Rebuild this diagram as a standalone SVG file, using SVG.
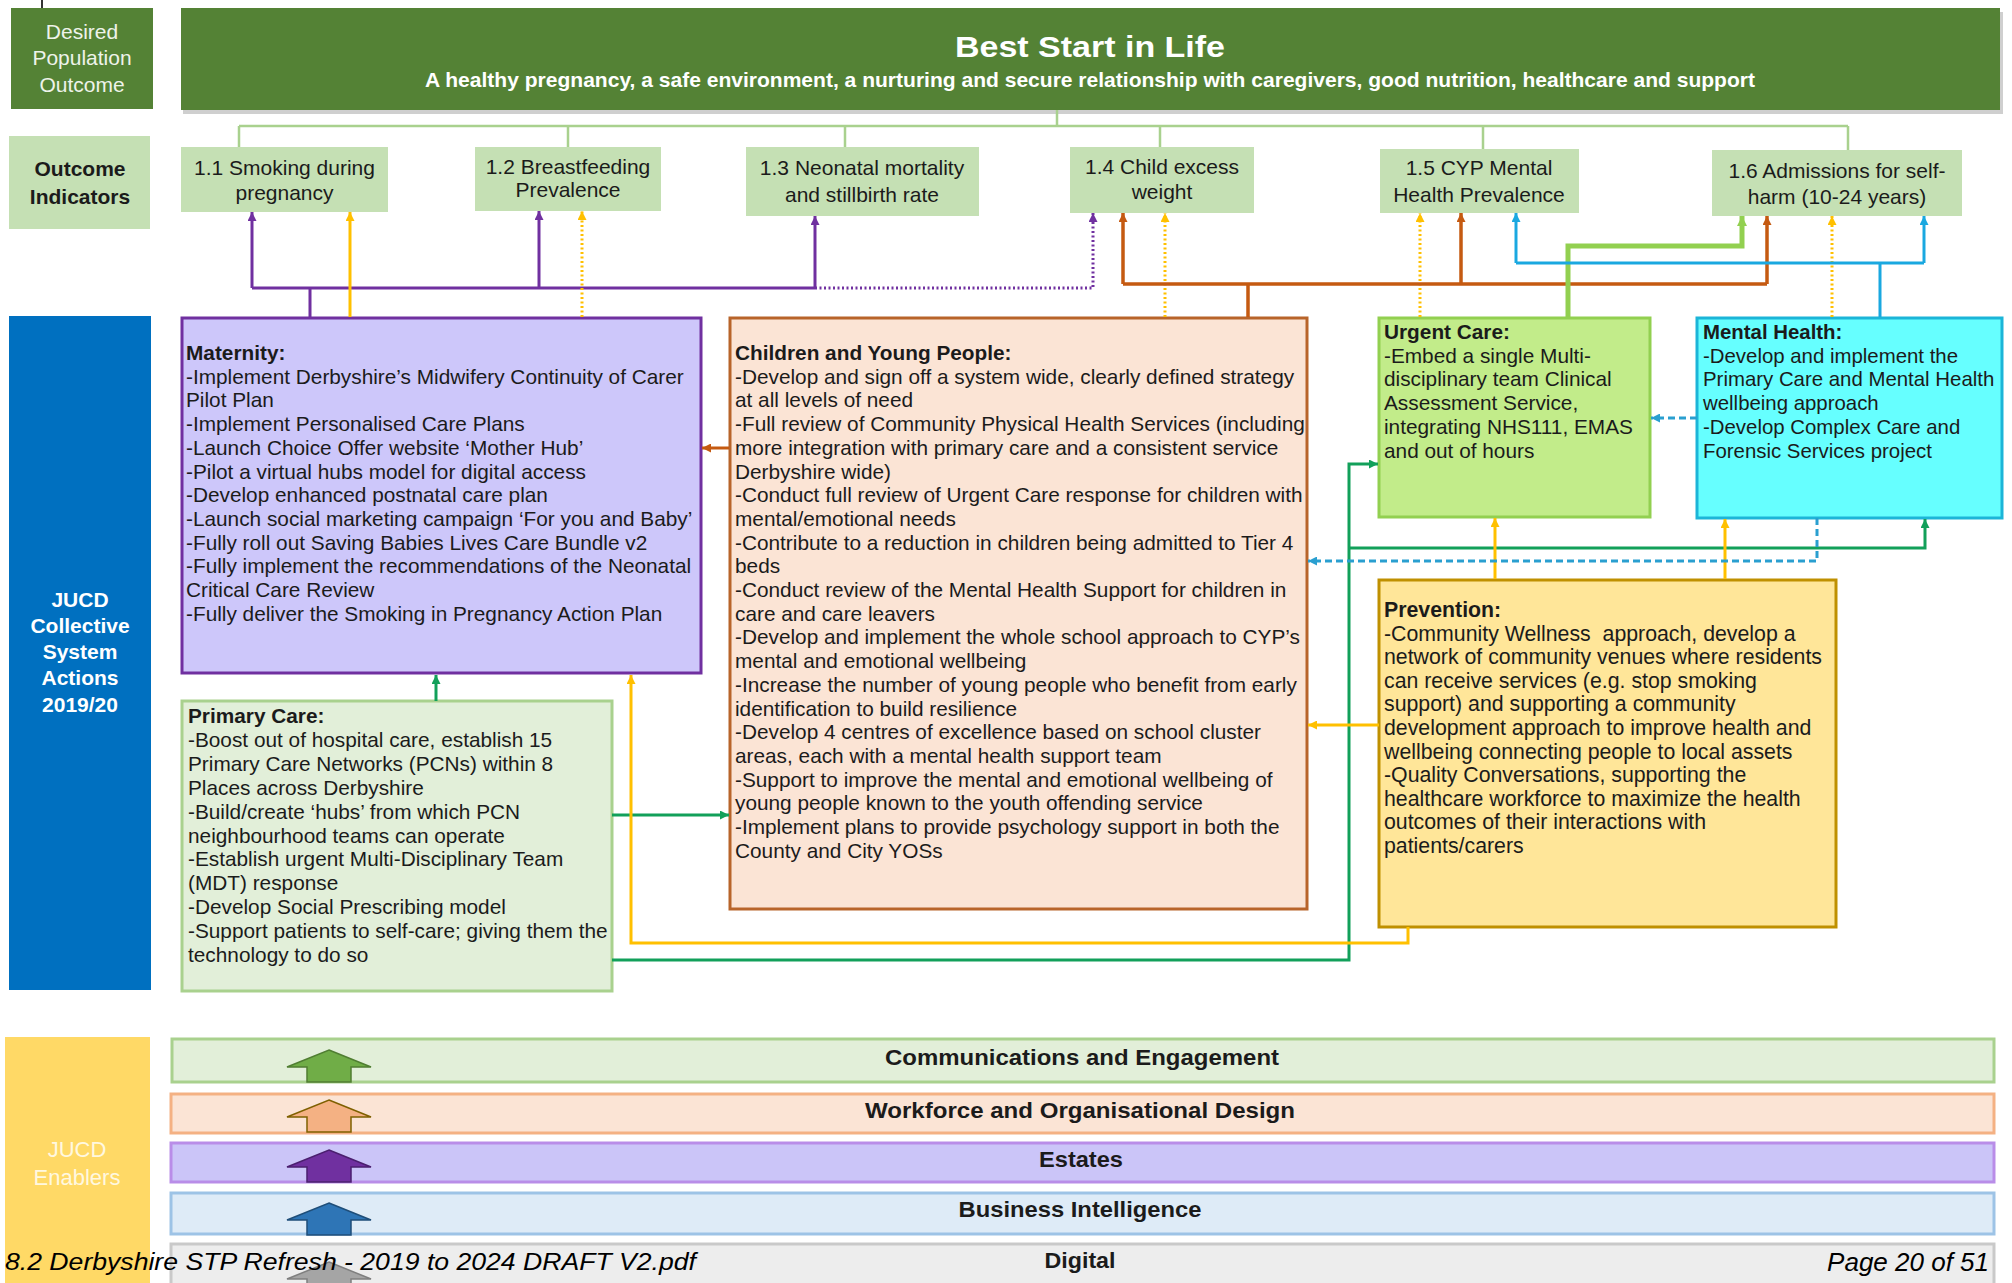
<svg xmlns="http://www.w3.org/2000/svg" width="2012" height="1283" viewBox="0 0 2012 1283">
  <style>
    text { font-family: "Liberation Sans", Arial, sans-serif; fill: #1b1b1b; }
    .body { font-size: 20.8px; }
    .b { font-weight: bold; }
    .ind { font-size: 21px; text-anchor: middle; }
    .side { font-size: 21px; text-anchor: middle; }
    .bar { font-size: 22px; font-weight: bold; text-anchor: middle; }
    .foot { font-size: 24px; font-style: italic; fill: #000; }
    .indbox { fill: #c5e0b4; }
    .tree { fill: none; stroke: #a9d18e; stroke-width: 2.5; }
    .c { fill: none; stroke-width: 3; }
    .dot { stroke-dasharray: 2 2.5; }
    .dash { stroke-dasharray: 7 4; }
  </style>
  <defs>
    <marker id="ah-purple" viewBox="0 0 10 10" refX="10" refY="5" markerWidth="10" markerHeight="9" markerUnits="userSpaceOnUse" orient="auto"><path d="M0,0 L10,5 L0,10 z" fill="#7030a0"/></marker>
    <marker id="ah-yellow" viewBox="0 0 10 10" refX="10" refY="5" markerWidth="10" markerHeight="9" markerUnits="userSpaceOnUse" orient="auto"><path d="M0,0 L10,5 L0,10 z" fill="#ffc000"/></marker>
    <marker id="ah-orange" viewBox="0 0 10 10" refX="10" refY="5" markerWidth="10" markerHeight="9" markerUnits="userSpaceOnUse" orient="auto"><path d="M0,0 L10,5 L0,10 z" fill="#c55a11"/></marker>
    <marker id="ah-lime" viewBox="0 0 10 10" refX="10" refY="5" markerWidth="11" markerHeight="10" markerUnits="userSpaceOnUse" orient="auto"><path d="M0,0 L10,5 L0,10 z" fill="#92d050"/></marker>
    <marker id="ah-blue" viewBox="0 0 10 10" refX="10" refY="5" markerWidth="10" markerHeight="9" markerUnits="userSpaceOnUse" orient="auto"><path d="M0,0 L10,5 L0,10 z" fill="#1aa8e0"/></marker>
    <marker id="ah-green" viewBox="0 0 10 10" refX="10" refY="5" markerWidth="10" markerHeight="9" markerUnits="userSpaceOnUse" orient="auto"><path d="M0,0 L10,5 L0,10 z" fill="#12a05a"/></marker>
    <marker id="ah-dash" viewBox="0 0 10 10" refX="10" refY="5" markerWidth="10" markerHeight="9" markerUnits="userSpaceOnUse" orient="auto"><path d="M0,0 L10,5 L0,10 z" fill="#2a9fd0"/></marker>
    <path id="up-arrow" d="M0,0 L42,17 L22,17 L22,32 L-22,32 L-22,17 L-42,17 Z"/>
  </defs>

  <rect width="2012" height="1283" fill="#ffffff"/>

  <!-- stray mark at top-left -->
  <line x1="42" y1="0" x2="42" y2="23" stroke="#333" stroke-width="2"/>

  <!-- row labels -->
  <g id="label-outcome">
    <rect x="11" y="8" width="142" height="101" fill="#548235"/>
    <text class="side" style="fill:#eef3ea"><tspan x="82" y="39">Desired</tspan><tspan x="82" y="65">Population</tspan><tspan x="82" y="92">Outcome</tspan></text>
  </g>
  <g id="label-indicators">
    <rect x="9" y="136" width="141" height="93" class="indbox"/>
    <text class="side b"><tspan x="80" y="176">Outcome</tspan><tspan x="80" y="204">Indicators</tspan></text>
  </g>
  <g id="label-actions">
    <rect x="9" y="316" width="142" height="674" fill="#0070c0"/>
    <text class="side b" style="fill:#ffffff"><tspan x="80" y="607">JUCD</tspan><tspan x="80" y="633">Collective</tspan><tspan x="80" y="659">System</tspan><tspan x="80" y="685">Actions</tspan><tspan x="80" y="712">2019/20</tspan></text>
  </g>
  <g id="label-enablers">
    <rect x="5" y="1037" width="145" height="246" fill="#ffd966"/>
    <text class="side" style="fill:#fff8e0;font-size:22px"><tspan x="77" y="1157">JUCD</tspan><tspan x="77" y="1185">Enablers</tspan></text>
  </g>

  <!-- population outcome header -->
  <g id="best-start">
    <rect x="183" y="12" width="1820" height="102" fill="#a8a8a8" opacity="0.55"/>
    <rect x="181" y="8" width="1819" height="102" fill="#548235"/>
    <text x="1090" y="57" class="b" text-anchor="middle" textLength="270" lengthAdjust="spacingAndGlyphs" style="fill:#ffffff;font-size:30px">Best Start in Life</text>
    <text x="1090" y="87" class="b" text-anchor="middle" textLength="1330" lengthAdjust="spacingAndGlyphs" style="fill:#ffffff;font-size:21px">A healthy pregnancy, a safe environment, a nurturing and secure relationship with caregivers, good nutrition, healthcare and support</text>
  </g>

  <!-- outcome indicators -->
  <g id="ind-1-1">
    <rect x="181" y="147" width="207" height="65" class="indbox"/>
    <text class="ind"><tspan x="284.5" y="175">1.1 Smoking during</tspan><tspan x="284.5" y="200">pregnancy</tspan></text>
  </g>
  <g id="ind-1-2">
    <rect x="475" y="147" width="186" height="64" class="indbox"/>
    <text class="ind"><tspan x="568" y="174">1.2 Breastfeeding</tspan><tspan x="568" y="197">Prevalence</tspan></text>
  </g>
  <g id="ind-1-3">
    <rect x="746" y="147" width="233" height="69" class="indbox"/>
    <text class="ind"><tspan x="862" y="175">1.3 Neonatal mortality</tspan><tspan x="862" y="202">and stillbirth rate</tspan></text>
  </g>
  <g id="ind-1-4">
    <rect x="1070" y="147" width="184" height="66" class="indbox"/>
    <text class="ind"><tspan x="1162" y="174">1.4 Child excess</tspan><tspan x="1162" y="199">weight</tspan></text>
  </g>
  <g id="ind-1-5">
    <rect x="1380" y="149" width="199" height="64" class="indbox"/>
    <text class="ind"><tspan x="1479" y="175">1.5 CYP Mental</tspan><tspan x="1479" y="202">Health Prevalence</tspan></text>
  </g>
  <g id="ind-1-6">
    <rect x="1712" y="150" width="250" height="66" class="indbox"/>
    <text class="ind"><tspan x="1837" y="178">1.6 Admissions for self-</tspan><tspan x="1837" y="204">harm (10-24 years)</tspan></text>
  </g>

  <!-- system actions -->
  <g id="maternity">
    <rect x="182" y="318" width="519" height="355" fill="#cdc7fa" stroke="#7030a0" stroke-width="3"/>
    <text class="body"><tspan x="186" y="360" class="b">Maternity:</tspan><tspan x="186" dy="23.7">-Implement Derbyshire’s Midwifery Continuity of Carer</tspan><tspan x="186" dy="23.7">Pilot Plan</tspan><tspan x="186" dy="23.7">-Implement Personalised Care Plans</tspan><tspan x="186" dy="23.7">-Launch Choice Offer website ‘Mother Hub’</tspan><tspan x="186" dy="23.7">-Pilot a virtual hubs model for digital access</tspan><tspan x="186" dy="23.7">-Develop enhanced postnatal care plan</tspan><tspan x="186" dy="23.7">-Launch social marketing campaign ‘For you and Baby’</tspan><tspan x="186" dy="23.7">-Fully roll out Saving Babies Lives Care Bundle v2</tspan><tspan x="186" dy="23.7">-Fully implement the recommendations of the Neonatal</tspan><tspan x="186" dy="23.7">Critical Care Review</tspan><tspan x="186" dy="23.7">-Fully deliver the Smoking in Pregnancy Action Plan</tspan></text>
  </g>

  <g id="cyp">
    <rect x="730" y="318" width="577" height="591" fill="#fbe4d5" stroke="#b8642a" stroke-width="3"/>
    <text class="body"><tspan x="735" y="360" class="b">Children and Young People:</tspan><tspan x="735" dy="23.7">-Develop and sign off a system wide, clearly defined strategy</tspan><tspan x="735" dy="23.7">at all levels of need</tspan><tspan x="735" dy="23.7">-Full review of Community Physical Health Services (including</tspan><tspan x="735" dy="23.7">more integration with primary care and a consistent service</tspan><tspan x="735" dy="23.7">Derbyshire wide)</tspan><tspan x="735" dy="23.7">-Conduct full review of Urgent Care response for children with</tspan><tspan x="735" dy="23.7">mental/emotional needs</tspan><tspan x="735" dy="23.7">-Contribute to a reduction in children being admitted to Tier 4</tspan><tspan x="735" dy="23.7">beds</tspan><tspan x="735" dy="23.7">-Conduct review of the Mental Health Support for children in</tspan><tspan x="735" dy="23.7">care and care leavers</tspan><tspan x="735" dy="23.7">-Develop and implement the whole school approach to CYP’s</tspan><tspan x="735" dy="23.7">mental and emotional wellbeing</tspan><tspan x="735" dy="23.7">-Increase the number of young people who benefit from early</tspan><tspan x="735" dy="23.7">identification to build resilience</tspan><tspan x="735" dy="23.7">-Develop 4 centres of excellence based on school cluster</tspan><tspan x="735" dy="23.7">areas, each with a mental health support team</tspan><tspan x="735" dy="23.7">-Support to improve the mental and emotional wellbeing of</tspan><tspan x="735" dy="23.7">young people known to the youth offending service</tspan><tspan x="735" dy="23.7">-Implement plans to provide psychology support in both the</tspan><tspan x="735" dy="23.7">County and City YOSs</tspan></text>
  </g>

  <g id="urgent-care">
    <rect x="1379" y="318" width="271" height="199" fill="#c2ec8a" stroke="#92d050" stroke-width="3"/>
    <text class="body"><tspan x="1384" y="339" class="b">Urgent Care:</tspan><tspan x="1384" dy="23.7">-Embed a single Multi-</tspan><tspan x="1384" dy="23.7">disciplinary team Clinical</tspan><tspan x="1384" dy="23.7">Assessment Service,</tspan><tspan x="1384" dy="23.7">integrating NHS111, EMAS</tspan><tspan x="1384" dy="23.7">and out of hours</tspan></text>
  </g>

  <g id="mental-health">
    <rect x="1697" y="318" width="305" height="200" fill="#66ffff" stroke="#1cb5d8" stroke-width="3"/>
    <text class="body" style="font-size:20.4px"><tspan x="1703" y="339" class="b">Mental Health:</tspan><tspan x="1703" dy="23.7">-Develop and implement the</tspan><tspan x="1703" dy="23.7">Primary Care and Mental Health</tspan><tspan x="1703" dy="23.7">wellbeing approach</tspan><tspan x="1703" dy="23.7">-Develop Complex Care and</tspan><tspan x="1703" dy="23.7">Forensic Services project</tspan></text>
  </g>

  <g id="prevention">
    <rect x="1379" y="580" width="457" height="347" fill="#ffe699" stroke="#bf9000" stroke-width="3"/>
    <text class="body" style="font-size:21.3px" xml:space="preserve"><tspan x="1384" y="617" class="b">Prevention:</tspan><tspan x="1384" dy="23.6">-Community Wellness  approach, develop a</tspan><tspan x="1384" dy="23.6">network of community venues where residents</tspan><tspan x="1384" dy="23.6">can receive services (e.g. stop smoking</tspan><tspan x="1384" dy="23.6">support) and supporting a community</tspan><tspan x="1384" dy="23.6">development approach to improve health and</tspan><tspan x="1384" dy="23.6">wellbeing connecting people to local assets</tspan><tspan x="1384" dy="23.6">-Quality Conversations, supporting the</tspan><tspan x="1384" dy="23.6">healthcare workforce to maximize the health</tspan><tspan x="1384" dy="23.6">outcomes of their interactions with</tspan><tspan x="1384" dy="23.6">patients/carers</tspan></text>
  </g>

  <g id="primary-care">
    <rect x="182" y="701" width="430" height="290" fill="#e2efd9" stroke="#a9d18e" stroke-width="3"/>
    <text class="body"><tspan x="188" y="723" class="b">Primary Care:</tspan><tspan x="188" dy="23.9">-Boost out of hospital care, establish 15</tspan><tspan x="188" dy="23.9">Primary Care Networks (PCNs) within 8</tspan><tspan x="188" dy="23.9">Places across Derbyshire</tspan><tspan x="188" dy="23.9">-Build/create ‘hubs’ from which PCN</tspan><tspan x="188" dy="23.9">neighbourhood teams can operate</tspan><tspan x="188" dy="23.9">-Establish urgent Multi-Disciplinary Team</tspan><tspan x="188" dy="23.9">(MDT) response</tspan><tspan x="188" dy="23.9">-Develop Social Prescribing model</tspan><tspan x="188" dy="23.9">-Support patients to self-care; giving them the</tspan><tspan x="188" dy="23.9">technology to do so</tspan></text>
  </g>

  <!-- connectors -->
  <g id="connectors">
    <!-- outcome tree -->
    <path class="tree" d="M1057,110 V126 M239,126 H1848 M239,126 V147 M568,126 V147 M845,126 V147 M1160,126 V147 M1483,126 V149 M1848,126 V150"/>

    <!-- maternity to indicators -->
    <path class="c" stroke="#7030a0" d="M310,317 V288 M252,288 H815"/>
    <path class="c" stroke="#7030a0" d="M252,288 V212" marker-end="url(#ah-purple)"/>
    <path class="c" stroke="#7030a0" d="M539,288 V211" marker-end="url(#ah-purple)"/>
    <path class="c" stroke="#7030a0" d="M815,288 V216" marker-end="url(#ah-purple)"/>
    <path class="c dot" stroke="#7030a0" d="M815,288 H1093 V213" marker-end="url(#ah-purple)"/>

    <!-- prevention links to indicators -->
    <path class="c" stroke="#ffc000" d="M350,317 V212" marker-end="url(#ah-yellow)"/>
    <path class="c dot" stroke="#ffc000" d="M582,317 V211" marker-end="url(#ah-yellow)"/>
    <path class="c dot" stroke="#ffc000" d="M1165,317 V213" marker-end="url(#ah-yellow)"/>
    <path class="c dot" stroke="#ffc000" d="M1420,317 V213" marker-end="url(#ah-yellow)"/>
    <path class="c dot" stroke="#ffc000" d="M1832,317 V216" marker-end="url(#ah-yellow)"/>

    <!-- children and young people to indicators -->
    <path class="c" stroke="#c55a11" style="stroke-width:3.5" d="M1248,317 V284 M1123,284 H1767"/>
    <path class="c" stroke="#c55a11" style="stroke-width:3.5" d="M1123,284 V213" marker-end="url(#ah-orange)"/>
    <path class="c" stroke="#c55a11" style="stroke-width:3.5" d="M1461,284 V213" marker-end="url(#ah-orange)"/>
    <path class="c" stroke="#c55a11" style="stroke-width:3.5" d="M1767,284 V216" marker-end="url(#ah-orange)"/>

    <!-- urgent care to indicator 1.6 -->
    <path class="c" stroke="#92d050" style="stroke-width:5" d="M1568,317 V246 H1742 V216" marker-end="url(#ah-lime)"/>

    <!-- mental health to indicators -->
    <path class="c" stroke="#1aa8e0" d="M1880,317 V263 M1516,263 H1924"/>
    <path class="c" stroke="#1aa8e0" d="M1516,263 V213" marker-end="url(#ah-blue)"/>
    <path class="c" stroke="#1aa8e0" d="M1924,263 V216" marker-end="url(#ah-blue)"/>

    <!-- links between action boxes -->
    <path class="c" stroke="#c55a11" d="M729,448 H702" marker-end="url(#ah-orange)"/>
    <path class="c" stroke="#12a05a" d="M436,701 V675" marker-end="url(#ah-green)"/>
    <path class="c" stroke="#12a05a" d="M612,815 H729" marker-end="url(#ah-green)"/>
    <path class="c" stroke="#12a05a" d="M612,960 H1349 V464 H1378" marker-end="url(#ah-green)"/>
    <path class="c" stroke="#12a05a" d="M1349,548 H1925 V519" marker-end="url(#ah-green)"/>
    <path class="c" stroke="#ffc000" d="M1408,927 V943 H631 V675" marker-end="url(#ah-yellow)"/>
    <path class="c" stroke="#ffc000" d="M1379,725 H1308" marker-end="url(#ah-yellow)"/>
    <path class="c" stroke="#ffc000" d="M1495,579 V518" marker-end="url(#ah-yellow)"/>
    <path class="c" stroke="#ffc000" d="M1725,579 V519" marker-end="url(#ah-yellow)"/>
    <path class="c dash" stroke="#2a9fd0" d="M1697,418 H1651" marker-end="url(#ah-dash)"/>
    <path class="c dash" stroke="#2a9fd0" d="M1817,518 V561 H1308" marker-end="url(#ah-dash)"/>
  </g>

  <!-- enablers -->
  <g id="enabler-comms">
    <rect x="172" y="1039" width="1822" height="43" fill="#e2efd9" stroke="#a9d18e" stroke-width="3"/>
    <use href="#up-arrow" x="329" y="1050" fill="#70ad47" stroke="#507e32" stroke-width="1.5"/>
    <text x="1082" y="1065" class="bar" textLength="394" lengthAdjust="spacingAndGlyphs">Communications and Engagement</text>
  </g>
  <g id="enabler-workforce">
    <rect x="171" y="1094" width="1823" height="39" fill="#fbe4d5" stroke="#f4b183" stroke-width="3"/>
    <use href="#up-arrow" x="329" y="1100" fill="#f4b183" stroke="#7f6000" stroke-width="1.5"/>
    <text x="1080" y="1118" class="bar" textLength="430" lengthAdjust="spacingAndGlyphs">Workforce and Organisational Design</text>
  </g>
  <g id="enabler-estates">
    <rect x="171" y="1143" width="1823" height="39" fill="#cbc5f8" stroke="#b98de8" stroke-width="3"/>
    <use href="#up-arrow" x="329" y="1150" fill="#7030a0" stroke="#4b1f6f" stroke-width="1.5"/>
    <text x="1081" y="1167" class="bar" textLength="84" lengthAdjust="spacingAndGlyphs">Estates</text>
  </g>
  <g id="enabler-bi">
    <rect x="171" y="1193" width="1823" height="41" fill="#deebf7" stroke="#9dc3e6" stroke-width="3"/>
    <use href="#up-arrow" x="329" y="1203" fill="#2e75b6" stroke="#1f4e79" stroke-width="1.5"/>
    <text x="1080" y="1217" class="bar" textLength="243" lengthAdjust="spacingAndGlyphs">Business Intelligence</text>
  </g>
  <g id="enabler-digital">
    <rect x="171" y="1244" width="1823" height="50" fill="#ededed" stroke="#c9c9c9" stroke-width="3"/>
    <use href="#up-arrow" x="329" y="1262" fill="#a5a5a5" stroke="#7f7f7f" stroke-width="1.5"/>
    <text x="1080" y="1268" class="bar" textLength="71" lengthAdjust="spacingAndGlyphs">Digital</text>
  </g>

  <!-- page footer -->
  <text x="5" y="1270" class="foot" textLength="691" lengthAdjust="spacingAndGlyphs">8.2 Derbyshire STP Refresh - 2019 to 2024 DRAFT V2.pdf</text>
  <text x="1989" y="1271" class="foot" text-anchor="end" style="font-size:26px">Page 20 of 51</text>
</svg>
